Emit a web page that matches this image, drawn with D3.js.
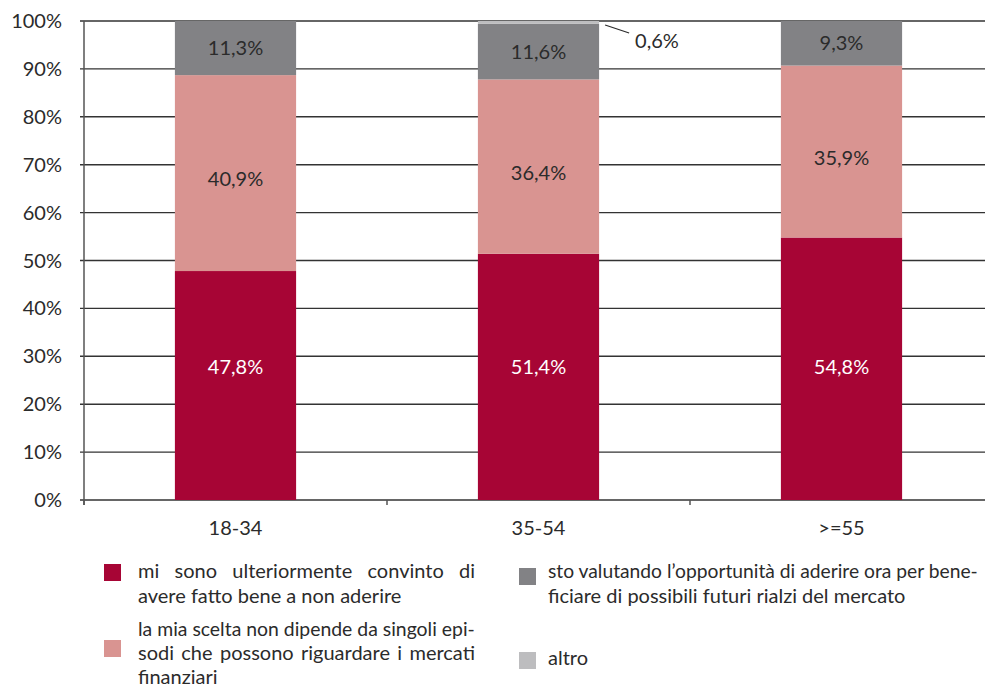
<!DOCTYPE html>
<html>
<head>
<meta charset="utf-8">
<script src="https://cdn.jsdelivr.net/npm/d3@7/dist/d3.min.js"></script>
<style>
  html, body { margin: 0; padding: 0; background: #fff; }
  svg { display: block; font-family: Lato, "Open Sans", sans-serif; }
</style>
</head>
<body>
<svg id="chart" width="985" height="689"></svg>
<script>
// Age groups and the share of answers for each reason (percent)
const categories = ["18-34", "35-54", ">=55"];
const seriesNames = [
  "mi sono ulteriormente convinto di avere fatto bene a non aderire",
  "la mia scelta non dipende da singoli episodi che possono riguardare i mercati finanziari",
  "sto valutando l’opportunità di aderire ora per beneficiare di possibili futuri rialzi del mercato",
  "altro"
];
const convinto   = [47.8, 51.4, 54.8];
const nonDipende = [40.9, 36.4, 35.9];
const valutando  = [11.3, 11.6, 9.3];
const altro      = [0.0, 0.6, 0.0];
const yTicks = [0, 10, 20, 30, 40, 50, 60, 70, 80, 90, 100];

const fmt = v => v.toFixed(1).replace(".", ",") + "%";
const colors = ["#a70535", "#d99491", "#828285", "#bdbdbf"];
const labelColors = ["#ffffff", "#2b2b2b", "#2b2b2b", "#2b2b2b"];
const FS = 20;

const svg = d3.select("#chart");
const margin = { left: 84, top: 21, bottom: 500 };
const bandW = 303;

const x = d3.scaleBand()
  .domain(categories)
  .range([margin.left, margin.left + bandW * categories.length])
  .paddingInner(0.6).paddingOuter(0.3);
const y = d3.scaleLinear().domain([0, 100]).range([margin.bottom, margin.top]);

// horizontal gridlines
svg.append("g").selectAll("line").data(yTicks).join("line")
  .attr("x1", 80).attr("x2", 985)
  .attr("y1", d => y(d)).attr("y2", d => y(d))
  .attr("stroke", "#333").attr("stroke-width", 1.4);

// y tick labels
svg.append("g").selectAll("text").data(yTicks).join("text")
  .attr("x", 62).attr("y", d => y(d)).attr("dy", "0.35em")
  .attr("text-anchor", "end").attr("font-size", FS).attr("fill", "#2b2b2b")
  .text(d => d + "%");

// stacked data
const rows = categories.map((c, i) => ({
  cat: c, s0: convinto[i], s1: nonDipende[i], s2: valutando[i], s3: altro[i]
}));
const stack = d3.stack().keys(["s0", "s1", "s2", "s3"])(rows);

const layers = svg.append("g").selectAll("g").data(stack).join("g")
  .attr("fill", (d, i) => colors[i]);
layers.selectAll("rect").data(d => d).join("rect")
  .attr("x", d => x(d.data.cat))
  .attr("width", x.bandwidth())
  .attr("y", d => y(d[1]))
  .attr("height", d => y(d[0]) - y(d[1]));

// y axis line and category tick marks
svg.append("line").attr("x1", margin.left).attr("x2", margin.left)
  .attr("y1", margin.top).attr("y2", margin.bottom + 5)
  .attr("stroke", "#555").attr("stroke-width", 1.5);
const bounds = d3.range(categories.length + 1).map(i => margin.left + i * bandW);
svg.append("g").selectAll("line").data(bounds).join("line")
  .attr("x1", d => d).attr("x2", d => d)
  .attr("y1", margin.bottom).attr("y2", margin.bottom + 5)
  .attr("stroke", "#555").attr("stroke-width", 1.5);

// category labels
svg.append("g").selectAll("text").data(categories).join("text")
  .attr("x", d => x(d) + x.bandwidth() / 2).attr("y", 535)
  .attr("text-anchor", "middle").attr("font-size", FS).attr("fill", "#2b2b2b")
  .text(d => d);

// value labels: bottom layer aligned on one level, upper layers near segment centre
const labelY = (li, d) => {
  if (li === 0) return y(27.8);
  if (li === 1) return (y(d[0]) + y(d[1])) / 2 + 6;
  return (y(d[0]) + y(d[1])) / 2;
};
stack.forEach((layer, li) => {
  layer.forEach(d => {
    const v = d[1] - d[0];
    if (v < 3) return;
    svg.append("text")
      .attr("x", x(d.data.cat) + x.bandwidth() / 2)
      .attr("y", labelY(li, d)).attr("dy", "0.35em")
      .attr("text-anchor", "middle").attr("font-size", FS)
      .attr("fill", labelColors[li])
      .text(fmt(v));
  });
});

// callout for the small "altro" segment
stack[3].forEach(d => {
  const v = d[1] - d[0];
  if (v <= 0 || v >= 3) return;
  const x0 = x(d.data.cat) + x.bandwidth() + 6;
  const y0 = y(d[1]) + 4;
  svg.append("line").attr("x1", x0).attr("y1", y0)
    .attr("x2", x0 + 24).attr("y2", y0 + 8)
    .attr("stroke", "#2b2b2b").attr("stroke-width", 1.2);
  svg.append("text").attr("x", x0 + 30).attr("y", y0 + 23)
    .attr("font-size", FS).attr("fill", "#2b2b2b").text(fmt(v));
});

// legend (justified lines get extra word spacing, long lines are shrunk to fit)
const legend = [
  { i: 0, sx: 104, sy: 564, tx: 138, lines: [
      { t: "mi sono ulteriormente convinto di", y: 578, w: 337 },
      { t: "avere fatto bene a non aderire", y: 603 } ] },
  { i: 1, sx: 104, sy: 640, tx: 138, lines: [
      { t: "la mia scelta non dipende da singoli epi-", y: 636, w: 337 },
      { t: "sodi che possono riguardare i mercati", y: 660, w: 337 },
      { t: "finanziari", y: 684 } ] },
  { i: 2, sx: 519, sy: 568, tx: 548, lines: [
      { t: "sto valutando l’opportunità di aderire ora per bene-", y: 578, w: 430 },
      { t: "ficiare di possibili futuri rialzi del mercato", y: 603 } ] },
  { i: 3, sx: 519, sy: 652, tx: 548, lines: [
      { t: "altro", y: 665 } ] }
];
const lg = svg.append("g").attr("class", "legend");
legend.forEach(item => {
  lg.append("rect").attr("x", item.sx).attr("y", item.sy)
    .attr("width", 17).attr("height", 17).attr("fill", colors[item.i])
    .append("title").text(seriesNames[item.i]);
  item.lines.forEach(l => {
    const t = lg.append("text").attr("x", item.tx).attr("y", l.y)
      .attr("font-size", FS).attr("fill", "#2b2b2b").text(l.t);
    if (l.w) {
      const natural = t.node().getComputedTextLength();
      const gaps = l.t.split(" ").length - 1;
      const extra = (l.w - natural) / gaps;
      if (extra >= 0) t.attr("word-spacing", extra);
      else t.attr("font-size", FS * l.w / natural);
    }
  });
});
</script>
</body>
</html>
